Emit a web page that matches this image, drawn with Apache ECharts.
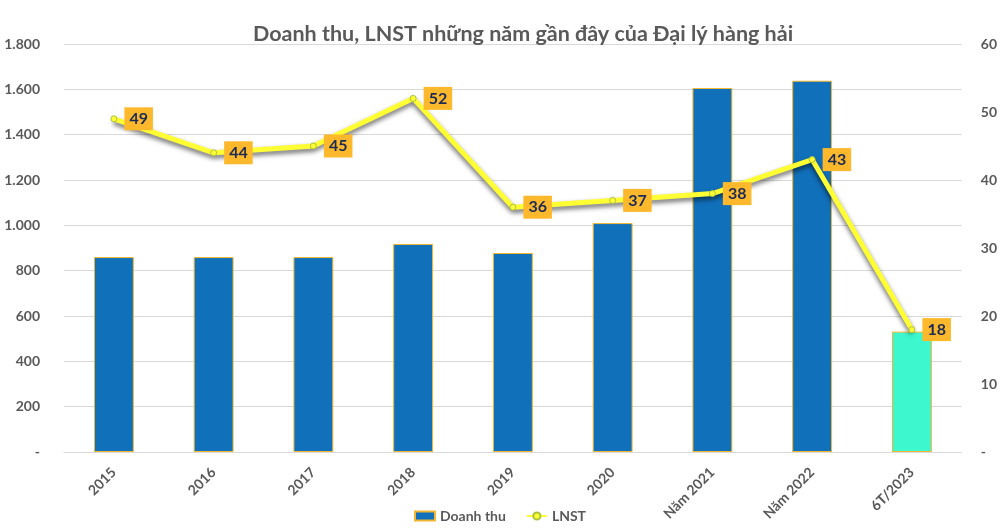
<!DOCTYPE html>
<html>
<head>
<meta charset="utf-8">
<script src="https://cdn.jsdelivr.net/npm/echarts@6/dist/echarts.min.js"></script>
<style>
  html, body { margin: 0; padding: 0; background: #fff; }
  #chart { width: 1000px; height: 532px; }
</style>
</head>
<body>
<div id="chart"></div>
<script>
const categories = ['2015', '2016', '2017', '2018', '2019', '2020', 'Năm 2021', 'Năm 2022', '6T/2023'];
const doanhThu = [860, 860, 860, 918, 878, 1010, 1606, 1638, 531];
const lnst = [49, 44, 45, 52, 36, 37, 38, 43, 18];
const leftTicks = { min: 0, max: 1800, interval: 200 };
const rightTicks = { min: 0, max: 60, interval: 10 };

const FONT = 'Lato, "Open Sans", sans-serif';
const GREY = '#595959';

function fmtThousand(v) {
    if (v === 0) return '-';
    return String(v).replace(/\B(?=(\d{3})+(?!\d))/g, '.');
}

const chart = echarts.init(document.getElementById('chart'));

const option = {
    backgroundColor: '#fff',
    animation: false,
    textStyle: { fontFamily: FONT },
    title: {
        text: 'Doanh thu, LNST những năm gần đây của Đại lý hàng hải',
        left: 248,
        top: 18,
        textStyle: { fontFamily: FONT, fontSize: 21.5, fontWeight: 'bold', color: GREY }
    },
    grid: { left: 64, right: 37, top: 44, bottom: 80 },
    legend: {
        bottom: 4,
        left: 'center',
        itemWidth: 20,
        itemHeight: 9,
        itemGap: 20,
        textStyle: { fontFamily: FONT, fontSize: 14, fontWeight: 'bold', color: GREY },
        data: [
            { name: 'Doanh thu', icon: 'rect' },
            { name: 'LNST' }
        ]
    },
    xAxis: {
        type: 'category',
        data: categories,
        axisTick: { show: false },
        axisLine: { lineStyle: { color: '#d9d9d9' } },
        axisLabel: {
            rotate: 45,
            margin: 18,
            fontFamily: FONT,
            fontSize: 14,
            fontWeight: 'bold',
            color: GREY
        }
    },
    yAxis: [
        {
            type: 'value',
            min: leftTicks.min,
            max: leftTicks.max,
            interval: leftTicks.interval,
            axisLine: { show: false },
            axisTick: { show: false },
            splitLine: { lineStyle: { color: '#d9d9d9' } },
            axisLabel: {
                margin: 24,
                fontFamily: FONT,
                fontSize: 14,
                fontWeight: 'bold',
                color: GREY,
                formatter: fmtThousand
            }
        },
        {
            type: 'value',
            min: rightTicks.min,
            max: rightTicks.max,
            interval: rightTicks.interval,
            axisLine: { show: false },
            axisTick: { show: false },
            splitLine: { show: false },
            axisLabel: {
                margin: 19,
                fontFamily: FONT,
                fontSize: 14,
                fontWeight: 'bold',
                color: GREY,
                formatter: v => v === 0 ? '-' : String(v)
            }
        }
    ],
    series: [
        {
            name: 'Doanh thu',
            type: 'bar',
            barWidth: '40%',
            itemStyle: { color: '#1170BA', borderColor: '#F2B632', borderWidth: 1 },
            data: doanhThu.map((v, i) => i === doanhThu.length - 1
                ? { value: v, itemStyle: { color: '#3DF7CE' } }
                : v)
        },
        {
            name: 'LNST',
            type: 'line',
            yAxisIndex: 1,
            symbol: 'circle',
            symbolSize: 6,
            z: 5,
            lineStyle: {
                color: '#FFFF33',
                width: 5,
                shadowColor: 'rgba(0,0,0,0.6)',
                shadowBlur: 5,
                shadowOffsetY: 3
            },
            itemStyle: { color: '#FFFF33', borderColor: '#A9C23A', borderWidth: 1 },
            label: {
                show: true,
                position: 'right',
                distance: 7,
                backgroundColor: '#FDB92B',
                padding: [4, 5, 3, 5],
                color: '#1B2A55',
                fontFamily: FONT,
                fontSize: 16,
                fontWeight: 'bold'
            },
            data: lnst
        }
    ]
};

chart.setOption(option);
</script>
</body>
</html>
